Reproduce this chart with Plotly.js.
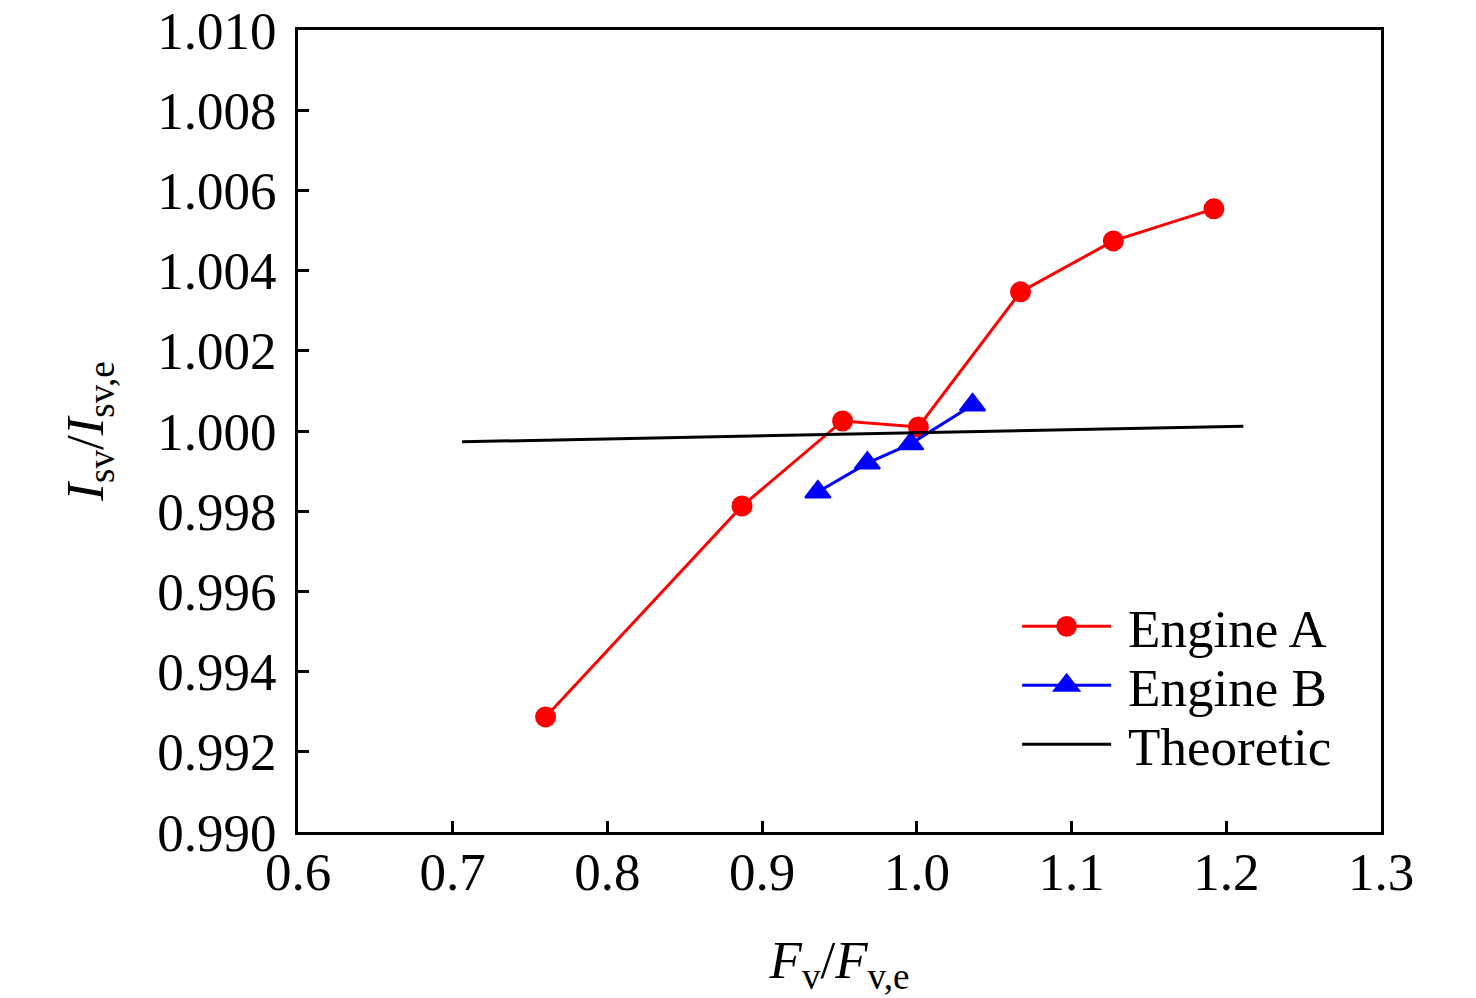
<!DOCTYPE html>
<html>
<head>
<meta charset="utf-8">
<script src="https://cdn.plot.ly/plotly-3.0.1.min.js"></script>
<style>
  html, body { margin: 0; padding: 0; background: #fff; }
  #chart { width: 1476px; height: 998px; }
</style>
</head>
<body>
<div id="chart"></div>
<script>
// F_v/F_v,e vs I_sv/I_sv,e
const engineAX = [0.760, 0.887, 0.952, 1.001, 1.067, 1.127, 1.192];
const engineAY = [0.99287, 0.99813, 1.00025, 1.00010, 1.00347, 1.00474, 1.00554];

const engineBX = [0.936, 0.968, 0.996, 1.036];
const engineBY = [0.99848, 0.99920, 0.99968, 1.00065];

const theoryX = [0.706, 1.211];
const theoryY = [0.99973, 1.00012];

const xTicks = [0.6, 0.7, 0.8, 0.9, 1.0, 1.1, 1.2, 1.3];
const yTicks = [0.990, 0.992, 0.994, 0.996, 0.998, 1.000, 1.002, 1.004, 1.006, 1.008, 1.010];

const FONT = '"Liberation Serif", "Times New Roman", serif';
const LEGEND_ROW = 59;     // px between legend rows
const LEGEND_MARKER = 1.3; // legend markers are capped at 16px, scale them back up

const traces = [
    {
        x: engineAX, y: engineAY, name: 'Engine A',
        mode: 'lines+markers', type: 'scatter',
        line: { color: '#ff0000', width: 3 },
        marker: { symbol: 'circle', size: 21, color: '#ff0000' },
    },
    {
        x: engineBX, y: engineBY, name: 'Engine B',
        mode: 'lines+markers', type: 'scatter',
        line: { color: '#0000ff', width: 3 },
        marker: { symbol: 'triangle-up', size: 22, color: '#0000ff', line: { color: '#0000ff', width: 2 } },
    },
    {
        x: theoryX, y: theoryY, name: 'Theoretic',
        mode: 'lines', type: 'scatter',
        line: { color: '#000000', width: 3 },
    },
];

const axisCommon = {
    showgrid: false, zeroline: false,
    showline: true, linecolor: '#000', linewidth: 3, mirror: true,
    ticks: 'inside', ticklen: 11, tickwidth: 3, tickcolor: '#000',
    tickfont: { family: FONT, size: 53, color: '#000' },
};

const layout = {
    width: 1476, height: 998,
    paper_bgcolor: '#fff', plot_bgcolor: '#fff',
    font: { family: FONT, color: '#000', size: 53 },
    margin: { l: 298, r: 95, t: 30, b: 166 },
    showlegend: true,
    legend: {
        x: 0.664, y: 0.3075, xanchor: 'left', yanchor: 'top',
        bgcolor: 'rgba(0,0,0,0)', borderwidth: 0,
        font: { family: FONT, size: 53, color: '#000' },
        itemwidth: 89, tracegroupgap: 0,
    },
    xaxis: {
        ...axisCommon,
        range: [0.6, 1.3], tickvals: xTicks, tickformat: '.1f',
        ticklabelstandoff: -9,
        title: { text: '<i>F</i><sub>v</sub>/<i>F</i><sub>v,e</sub>', standoff: 42, font: { family: FONT, size: 53 } },
    },
    yaxis: {
        ...axisCommon,
        range: [0.990, 1.010], tickvals: yTicks, tickformat: '.3f',
        ticklabelstandoff: 8,
        title: { text: '<i>I</i><sub>sv</sub>/<i>I</i><sub>sv,e</sub>', standoff: 37, font: { family: FONT, size: 53 } },
    },
};

Plotly.newPlot('chart', traces, layout, { displayModeBar: false, staticPlot: true }).then(gd => {
    // tighten the legend rows and enlarge its markers to match the figure
    const items = gd.querySelectorAll('.legend .traces');
    if (!items.length) return;
    gd.querySelectorAll('.legend [clip-path]').forEach(el => el.removeAttribute('clip-path'));
    const m0 = items[0].transform.baseVal.consolidate().matrix;
    items.forEach((el, i) => {
        el.setAttribute('transform', `translate(${m0.e},${m0.f + i * LEGEND_ROW})`);
        el.querySelectorAll('.legendpoints path').forEach(p => {
            p.setAttribute('transform', (p.getAttribute('transform') || '') + ` scale(${LEGEND_MARKER})`);
        });
        const txt = el.querySelector('text.legendtext');
        if (txt) txt.setAttribute('x', parseFloat(txt.getAttribute('x')) + 12);
    });
});
</script>
</body>
</html>
